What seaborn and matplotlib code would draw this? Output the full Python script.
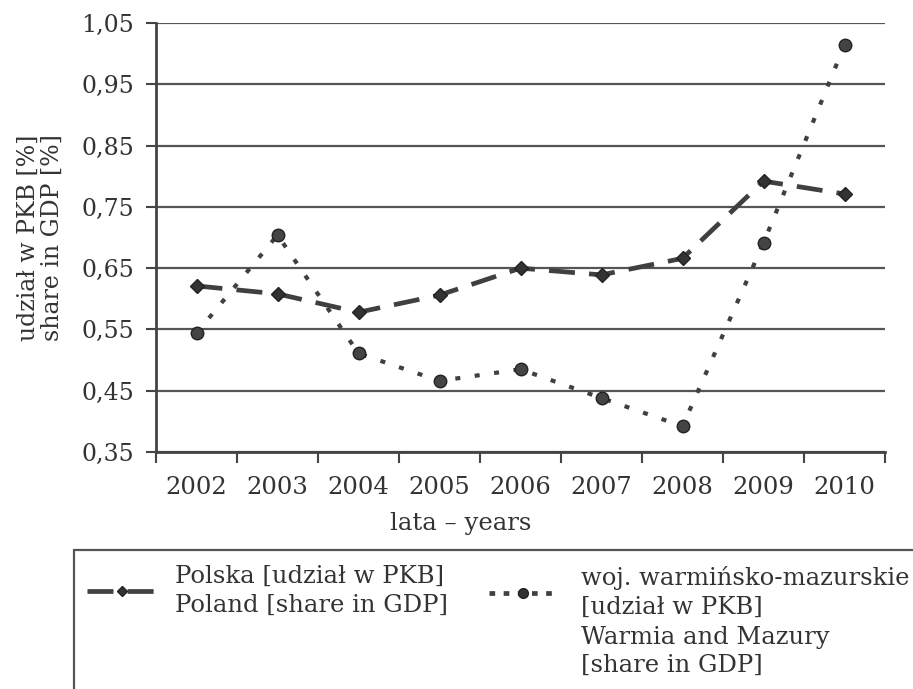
import matplotlib
matplotlib.use("Agg")
import matplotlib.pyplot as plt
from matplotlib.lines import Line2D
from matplotlib.patches import Rectangle
from matplotlib.ticker import FixedLocator, FuncFormatter
import seaborn as sns
import pandas as pd

# dane
lata = [2002, 2003, 2004, 2005, 2006, 2007, 2008, 2009, 2010]
polska = [0.621, 0.608, 0.578, 0.606, 0.650, 0.639, 0.666, 0.792, 0.771]
warmia = [0.544, 0.704, 0.511, 0.466, 0.485, 0.438, 0.392, 0.691, 1.014]
y_ticks = [0.35, 0.45, 0.55, 0.65, 0.75, 0.85, 0.95, 1.05]

etykieta_polska = "Polska [udział w PKB]\nPoland [share in GDP]"
etykieta_warmia_1 = "woj. warmińsko-mazurskie\n[udział w PKB]"
etykieta_warmia_2 = "Warmia and Mazury\n[share in GDP]"

df = pd.DataFrame({"rok": lata, "Polska": polska, "Warmia": warmia})

sns.set_style("white")
plt.rcParams["font.family"] = ["DejaVu Serif"]
plt.rcParams["text.color"] = "#333333"
plt.rcParams["axes.labelcolor"] = "#333333"
plt.rcParams["xtick.color"] = "#333333"
plt.rcParams["ytick.color"] = "#333333"

fs = 17.5
kolor = "#404040"
kreski = (0, (5.5, 3))
kropki = (0, (1.2, 3.5))

fig = plt.figure(figsize=(9.13, 6.89), dpi=100)
ax = fig.add_axes([156 / 913, 1 - 452 / 689, 729 / 913, 429 / 689])

sns.lineplot(data=df, x="rok", y="Warmia", ax=ax, color=kolor, linewidth=3.0,
             linestyle=kropki, marker="o", markersize=9,
             markerfacecolor="#444444", markeredgecolor="#222222",
             markeredgewidth=1.0)
sns.lineplot(data=df, x="rok", y="Polska", ax=ax, color=kolor, linewidth=3.4,
             linestyle=kreski, marker="D", markersize=7.5,
             markerfacecolor="#333333", markeredgecolor="#222222",
             markeredgewidth=1.0)

ax.set_xlim(2001.5, 2010.5)
ax.set_ylim(0.35, 1.05)
ax.xaxis.set_major_locator(FixedLocator(lata))
ax.xaxis.set_minor_locator(FixedLocator([r - 0.5 for r in lata] + [2010.5]))
ax.yaxis.set_major_locator(FixedLocator(y_ticks))
ax.yaxis.set_major_formatter(FuncFormatter(lambda v, p: f"{v:.2f}".replace(".", ",")))
ax.tick_params(axis="x", which="major", length=0, pad=17, labelsize=fs)
ax.tick_params(axis="x", which="minor", length=8, width=1.5, direction="out",
               bottom=True, color="#444444")
ax.tick_params(axis="y", length=7, width=1.5, direction="out", pad=9,
               labelsize=17, left=True, color="#444444")

ax.grid(axis="y", color="#555555", linewidth=1.6)
ax.grid(axis="x", visible=False)
ax.set_axisbelow(True)
for s in ["top", "right"]:
    ax.spines[s].set_visible(False)
for s in ["left", "bottom"]:
    ax.spines[s].set_color("#444444")
    ax.spines[s].set_linewidth(2)

ax.set_xlabel("lata – years", fontsize=fs)
ax.xaxis.set_label_coords(0.418, -0.14)
ax.set_ylabel("udział w PKB [%]\nshare in GDP [%]", fontsize=17, linespacing=1.1)
ax.yaxis.set_label_coords(-0.126, 0.5)

# legenda
h_polska = Line2D([], [], color=kolor, linewidth=3.4, linestyle=kreski,
                  marker="D", markersize=5.5, markerfacecolor="#333333",
                  markeredgecolor="#222222")
h_warmia = Line2D([], [], color=kolor, linewidth=3.4, linestyle=(0, (1.2, 1.8)),
                  marker="o", markersize=7, markerfacecolor="#333333",
                  markeredgecolor="#222222")
h_pusty = Line2D([], [], linestyle="none")

leg1 = fig.legend(handles=[h_polska], labels=[etykieta_polska], loc="upper left",
                  bbox_to_anchor=(87 / 913, 1 - 565 / 689), frameon=False,
                  borderpad=0, borderaxespad=0, handlelength=2.9,
                  handletextpad=0.72, fontsize=fs)
leg2 = fig.legend(handles=[h_warmia, h_pusty],
                  labels=[etykieta_warmia_1, etykieta_warmia_2], loc="upper left",
                  bbox_to_anchor=(489 / 913, 1 - 566 / 689), frameon=False,
                  borderpad=0, borderaxespad=0, handlelength=2.8,
                  handletextpad=1.0, labelspacing=0.3, fontsize=fs)
for leg in (leg1, leg2):
    for t in leg.get_texts():
        t.set_linespacing(1.3)

ramka = Rectangle((74 / 913, -0.1), 2, 0.1 + 1 - 550 / 689,
                  transform=fig.transFigure, fill=False, edgecolor="#555555",
                  linewidth=1.6, clip_on=False)
fig.add_artist(ramka)

plt.savefig("out.png", dpi=100)
plt.close()
